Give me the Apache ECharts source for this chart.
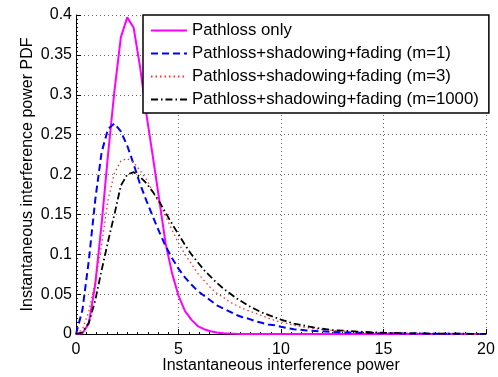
<!DOCTYPE html>
<html>
<head>
<meta charset="utf-8">
<script src="https://cdn.jsdelivr.net/npm/echarts@6/dist/echarts.min.js"></script>
<style>
    html,body{margin:0;padding:0;background:#fff;}
    #chart{width:498px;height:377px;}
</style>
</head>
<body>
<div id="chart"></div>
<script>
// x samples (interference power)
const xValues=[0,0.3125,0.625,0.9375,1.25,1.5625,1.875,2.1875,2.5,2.8125,3.125,3.4375,3.75,4.0625,4.375,4.6875,
    5,5.3125,5.625,5.9375,6.25,6.5625,6.875,7.1875,7.5,7.8125,8.125,8.4375,8.75,9.0625,9.375,9.6875,10,
    10.625,11.25,11.875,12.5,13.125,13.75,14.375,15,16.25,17.5,18.75,20];

const pathlossOnly=[0,0.001,0.013,0.062,0.138,0.225,0.305,0.372,0.397,0.384,0.335,0.275,0.222,0.168,0.113,0.076,
    0.048,0.029,0.018,0.010,0.006,0.0035,0.002,0.001,0.0005,0.0002,0,0,0,0,0,0,0,
    0,0,0,0,0,0,0,0,0,0,0,0];
const fadingM1=[0,0.03,0.092,0.168,0.228,0.257,0.264,0.254,0.236,0.213,0.188,0.167,0.147,0.128,0.110,0.095,
    0.082,0.071,0.062,0.054,0.048,0.042,0.036,0.032,0.028,0.024,0.021,0.019,0.016,0.014,0.012,0.011,0.009,
    0.006,0.0045,0.0035,0.0027,0.002,0.0016,0.0012,0.001,0.0006,0.0004,0.0002,0.0001];
const fadingM3=[0,0.006,0.028,0.066,0.112,0.168,0.202,0.217,0.220,0.215,0.205,0.194,0.178,0.164,0.148,0.130,
    0.114,0.100,0.088,0.076,0.067,0.058,0.051,0.046,0.040,0.036,0.032,0.029,0.026,0.023,0.020,0.017,0.015,
    0.011,0.008,0.006,0.0045,0.0035,0.0027,0.002,0.0015,0.0009,0.0005,0.0003,0.0002];
const fadingM1000=[0,0.002,0.014,0.042,0.08,0.116,0.150,0.186,0.200,0.203,0.197,0.189,0.178,0.166,0.152,0.138,
    0.125,0.112,0.100,0.090,0.080,0.072,0.064,0.057,0.051,0.045,0.040,0.035,0.031,0.027,0.024,0.021,0.018,
    0.013,0.010,0.007,0.005,0.004,0.003,0.0022,0.0016,0.0009,0.0005,0.0003,0.0002];

const seriesNames=['Pathloss only','Pathloss+shadowing+fading (m=1)','Pathloss+shadowing+fading (m=3)','Pathloss+shadowing+fading (m=1000)'];
const xTicks=[0,5,10,15,20];
const yTicks=[0,0.05,0.1,0.15,0.2,0.25,0.3,0.35,0.4];

const font='"Liberation Sans", Arial, sans-serif';

let chart=echarts.init(document.getElementById('chart'));

function pairs(ys){
    return xValues.map((x,i)=>[x,ys[i]]);
}

function line(name,ys,color,width,dash){
    return {
        name:name,
        type:'line',
        data:pairs(ys),
        symbol:'none',
        clip:false,
        animation:false,
        lineStyle:{color:color,width:width,type:dash},
        itemStyle:{color:color}
    };
}

const gridLine={show:true,lineStyle:{color:'#666',width:1,type:[1,3]}};

chart.setOption({
    backgroundColor:'#fff',
    textStyle:{fontFamily:font},
    grid:{left:76,right:12,top:15,bottom:43,containLabel:false,outerBoundsMode:'none'},
    legend:{
        orient:'vertical',
        left:143,
        top:15,
        padding:[7,10,5,7],
        itemWidth:36,
        itemHeight:14,
        itemGap:6,
        backgroundColor:'#fff',
        borderColor:'#000',
        borderWidth:1.5,
        borderRadius:0,
        itemStyle:{opacity:0},   // hide the symbol, keep the line sample
        textStyle:{fontFamily:font,fontSize:16.8,color:'#000',lineHeight:16},
        data:seriesNames
    },
    xAxis:{
        type:'value',
        min:xTicks[0],
        max:xTicks[xTicks.length-1],
        interval:5,
        name:'Instantaneous interference power',
        nameLocation:'middle',
        nameGap:24,
        nameMoveOverlap:false,
        nameTextStyle:{fontFamily:font,fontSize:16,color:'#000'},
        axisLine:{onZero:false,lineStyle:{color:'#000',width:1}},
        axisTick:{inside:true,length:5,lineStyle:{color:'#000'}},
        minorTick:{show:true,splitNumber:10,length:2,lineStyle:{color:'#000'}},
        axisLabel:{fontFamily:font,fontSize:16,color:'#000',margin:8},
        splitLine:gridLine
    },
    yAxis:{
        type:'value',
        min:yTicks[0],
        max:yTicks[yTicks.length-1],
        interval:0.05,
        name:'Instantaneous interference power PDF',
        nameLocation:'middle',
        nameGap:40,
        nameMoveOverlap:false,
        nameTextStyle:{fontFamily:font,fontSize:16,color:'#000'},
        axisLine:{show:true,lineStyle:{color:'#000',width:1}},
        axisTick:{inside:true,length:5,lineStyle:{color:'#000'}},
        minorTick:{show:true,splitNumber:10,length:2,lineStyle:{color:'#000'}},
        axisLabel:{fontFamily:font,fontSize:16,color:'#000',margin:4},
        splitLine:gridLine
    },
    series:[
        line(seriesNames[0],pathlossOnly,'#ff00ff',2,'solid'),
        line(seriesNames[1],fadingM1,'#0000ff',2,[7,4]),
        line(seriesNames[2],fadingM3,'#ff3030',1.3,[1.5,3]),
        line(seriesNames[3],fadingM1000,'#000000',1.8,[7,3,1.5,3])
    ]
});
</script>
</body>
</html>
